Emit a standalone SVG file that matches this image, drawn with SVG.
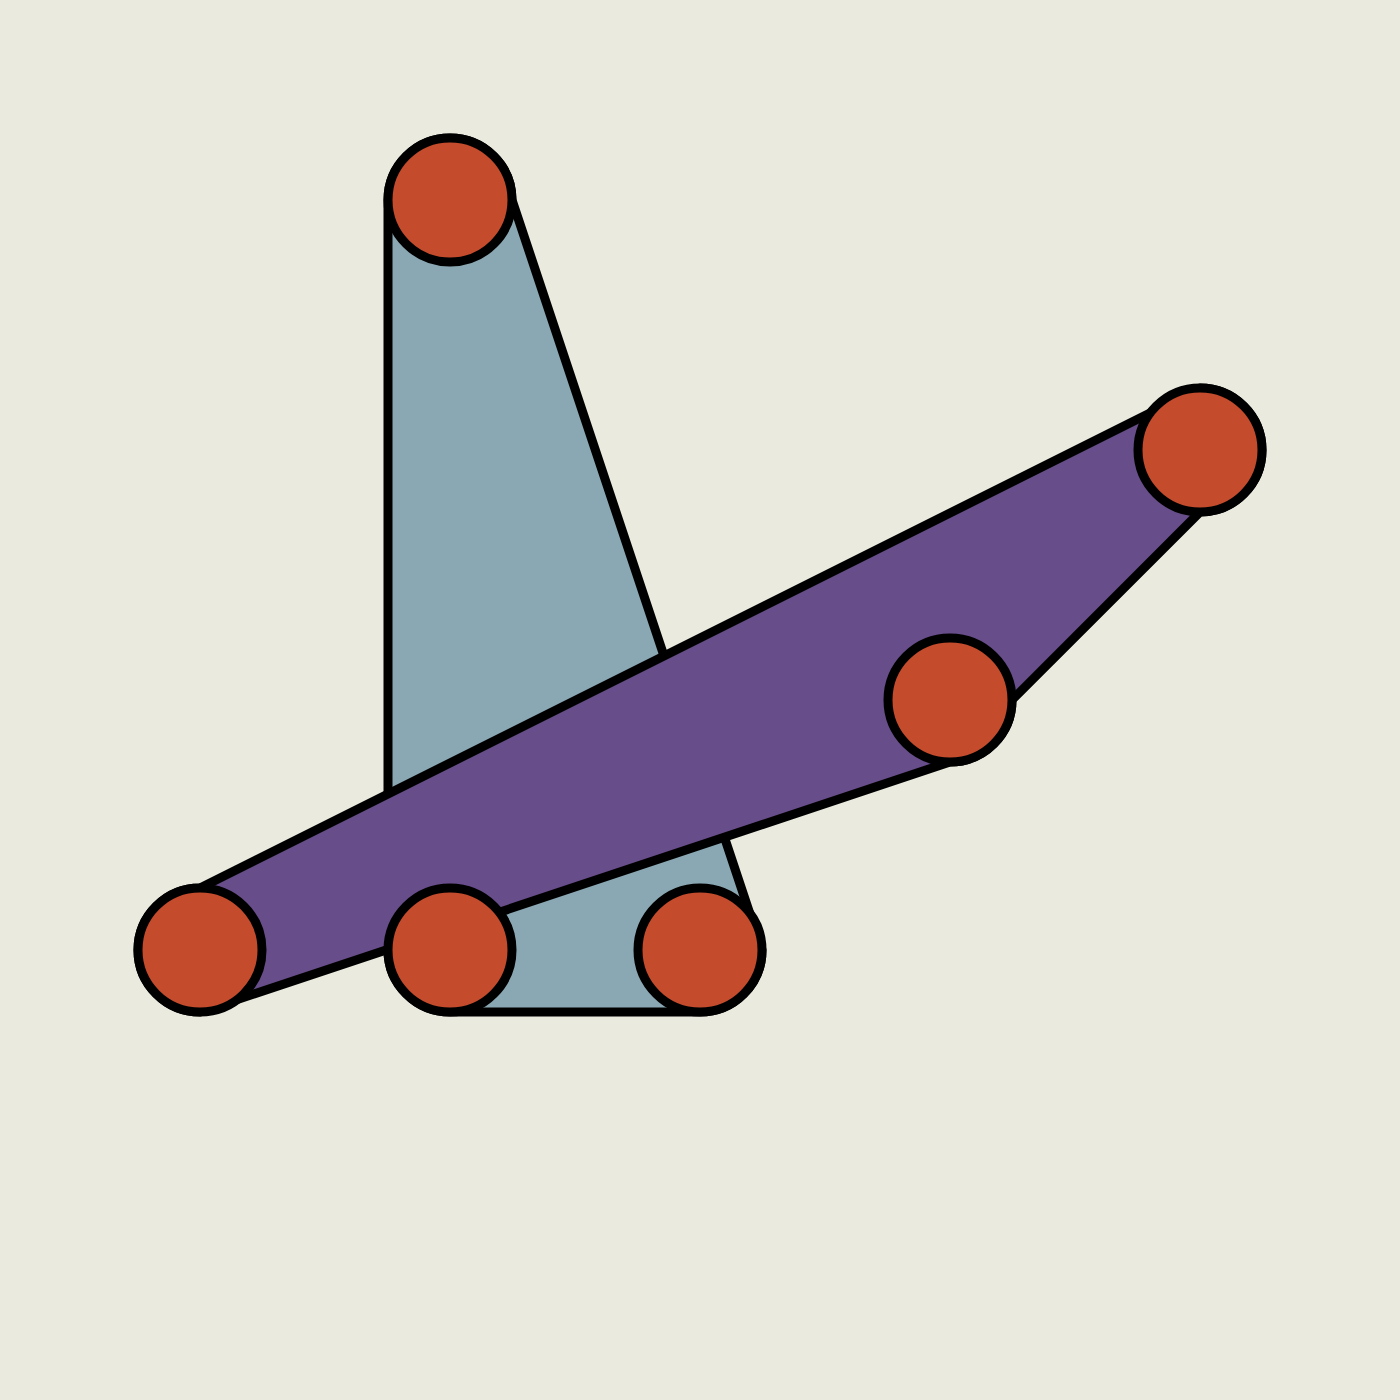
<svg xmlns="http://www.w3.org/2000/svg" width="1400" height="1400" viewBox="0 0 1400 1400">
<style>
.hull{stroke:#000;stroke-width:9;stroke-linejoin:round}
.node{fill:#C44B2C;stroke:#000;stroke-width:9}
</style>
<rect width="1400" height="1400" fill="#EAEADF"/>
<g id="connectors">
<path id="hull-blue" class="hull" fill="#8AA8B3" d="M388,200 A62,62 0 0 1 450,138 A62,62 0 0 1 512,200 L762,950 A62,62 0 0 1 700,1012 L450,1012 A62,62 0 0 1 388,950 Z"/>
<path id="hull-purple" class="hull" fill="#674D89" d="M138,950 A62,62 0 0 1 200,888 L1200,388 A62,62 0 0 1 1262,450 A62,62 0 0 1 1200,512 L1012,700 A62,62 0 0 1 950,762 L200,1012 A62,62 0 0 1 138,950 Z"/>
</g>
<g id="n1"><circle class="node" cx="450" cy="200" r="62"/></g>
<g id="n2"><circle class="node" cx="1200" cy="450" r="62"/></g>
<g id="n3"><circle class="node" cx="950" cy="700" r="62"/></g>
<g id="n4"><circle class="node" cx="200" cy="950" r="62"/></g>
<g id="n5"><circle class="node" cx="450" cy="950" r="62"/></g>
<g id="n6"><circle class="node" cx="700" cy="950" r="62"/></g>
</svg>
